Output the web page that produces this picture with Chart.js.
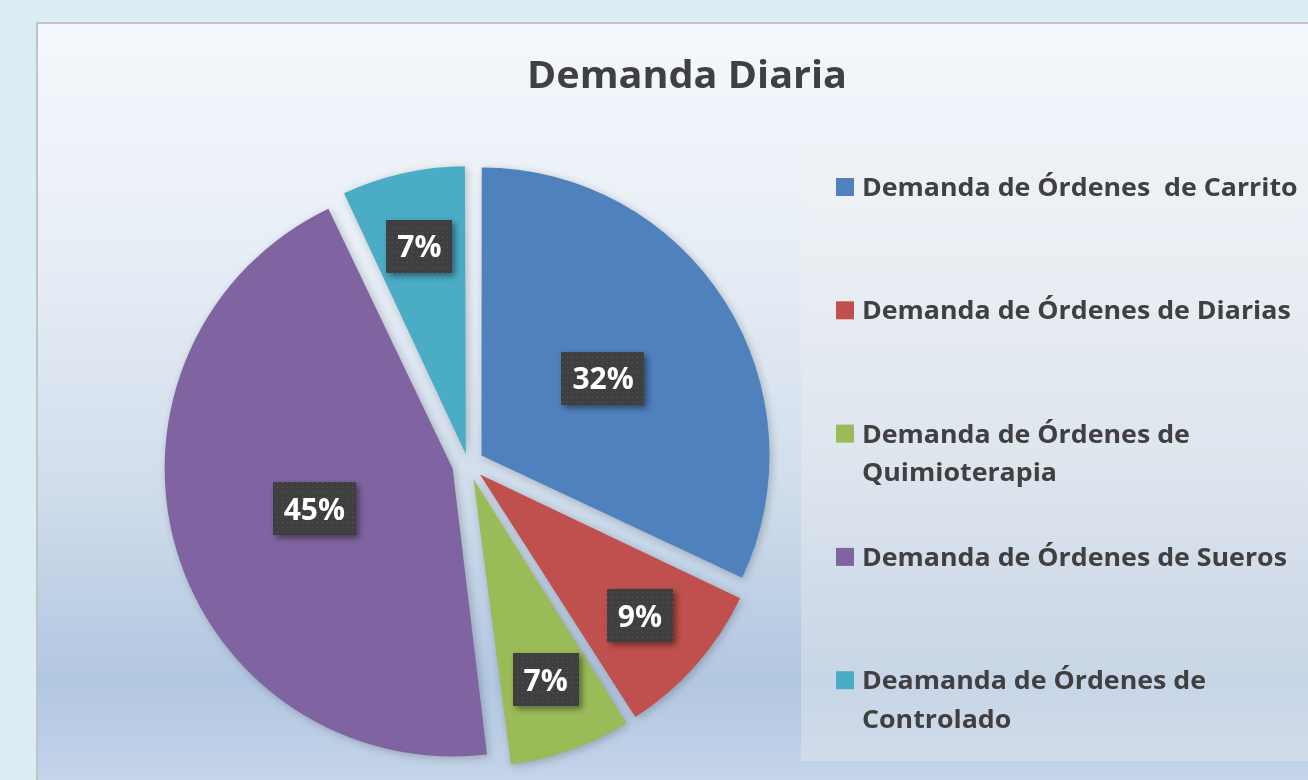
<!DOCTYPE html>
<html>
<head>
<meta charset="utf-8">
<title>Demanda Diaria</title>
<script src="https://cdn.jsdelivr.net/npm/chart.js@4.4.1/dist/chart.umd.min.js"></script>
<style>
  html, body { margin: 0; padding: 0; background: #daedf3; overflow: hidden; }
  #wrap { position: relative; width: 1308px; height: 780px; }
</style>
</head>
<body>
<div id="wrap"><canvas id="pieChart"></canvas></div>
<script>
// data
const chartTitle = "Demanda Diaria";
const categories = [
  "Demanda de Órdenes  de Carrito",
  "Demanda de Órdenes de Diarias",
  ["Demanda de Órdenes de", "Quimioterapia"],
  "Demanda de Órdenes de Sueros",
  ["Deamanda de Órdenes de", "Controlado"],
];
const demand = [32, 9, 7, 45, 7];
const sliceColors = ["#4f81bd", "#c0504d", "#9bbb59", "#8064a2", "#4bacc6"];
const explode = [16, 16, 16, 16, 10]; // px each slice is pulled out

const FONT = "'Open Sans', sans-serif";
const TEXT_COLOR = "#404040";
const TEXT_STRETCH = 1.07; // the original font is a bit wider than Open Sans
const PIE_RADIUS = 288;

// dotted dark fill used behind the percentage labels
function makeDotPattern(ctx) {
  const c = document.createElement("canvas");
  c.width = 5; c.height = 5;
  const p = c.getContext("2d");
  p.fillStyle = "#3f3f3f";
  p.fillRect(0, 0, 5, 5);
  p.fillStyle = "#575757";
  p.fillRect(2, 2, 1, 1);
  return ctx.createPattern(c, "repeat");
}

function wideText(ctx, text, x, y) {
  ctx.save();
  ctx.translate(x, y);
  ctx.scale(TEXT_STRETCH, 1);
  ctx.fillText(text, 0, 0);
  ctx.restore();
}

const backgroundPlugin = {
  id: "panelBackground",
  afterDatasetUpdate(chart) {
    // chart.js grows small exploded slices a bit; keep every slice the same size
    chart.getDatasetMeta(0).data.forEach((arc, i) => {
      const fix = 1 - Math.sin(Math.min(Math.PI, arc.circumference));
      arc.outerRadius = PIE_RADIUS - explode[i] * fix;
    });
  },
  beforeDraw(chart) {
    const ctx = chart.ctx;
    const w = chart.width, h = chart.height;
    ctx.save();
    ctx.fillStyle = "#daedf3";
    ctx.fillRect(0, 0, w, h);

    const g = ctx.createLinearGradient(0, 22, 0, h);
    g.addColorStop(0, "#f5f8fc");
    g.addColorStop(0.3, "#e8eef6");
    g.addColorStop(0.6, "#d2deec");
    g.addColorStop(0.87, "#b2c7e1");
    g.addColorStop(1, "#c4d4e9");
    ctx.fillStyle = g;
    ctx.fillRect(37, 23, w, h);
    ctx.strokeStyle = "#c3c3c3";
    ctx.lineWidth = 2;
    ctx.strokeRect(37, 23, w + 10, h + 10);

    // legend panel
    ctx.fillStyle = "rgba(240,240,240,0.35)";
    ctx.fillRect(801, 145, w - 801, 616);

    // title
    ctx.fillStyle = TEXT_COLOR;
    ctx.font = "bold 37px " + FONT;
    ctx.textAlign = "center";
    ctx.textBaseline = "alphabetic";
    wideText(ctx, chartTitle, 687, 88);
    ctx.restore();
  },
  beforeDatasetsDraw(chart) {
    const ctx = chart.ctx;
    ctx.save();
    ctx.shadowColor = "rgba(0,0,0,0.22)";
    ctx.shadowBlur = 8;
    ctx.shadowOffsetX = 2;
    ctx.shadowOffsetY = 2;
  },
  afterDatasetsDraw(chart) {
    chart.ctx.restore();
  },
  afterDraw(chart) {
    const ctx = chart.ctx;
    const meta = chart.getDatasetMeta(0);
    const values = chart.data.datasets[0].data;
    const total = values.reduce((a, b) => a + b, 0);
    const pattern = makeDotPattern(ctx);

    // percentage labels
    ctx.save();
    ctx.font = "bold 30px " + FONT;
    meta.data.forEach((arc, i) => {
      const share = values[i] / total;
      const p = arc.getProps(["x", "y", "startAngle", "endAngle"], true);
      const mid = (p.startAngle + p.endAngle) / 2;
      const dist = PIE_RADIUS * (share < 0.1 ? 0.74 : 0.5) + explode[i];
      const cx = p.x + Math.cos(mid) * dist;
      const cy = p.y + Math.sin(mid) * dist;
      const text = Math.round(share * 100) + "%";
      const tw = ctx.measureText(text).width;
      const bw = tw + 22, bh = 53;
      ctx.save();
      ctx.shadowColor = "rgba(0,0,0,0.45)";
      ctx.shadowBlur = 6;
      ctx.shadowOffsetX = 3;
      ctx.shadowOffsetY = 3;
      ctx.fillStyle = pattern;
      ctx.fillRect(Math.round(cx - bw / 2), Math.round(cy - bh / 2), Math.round(bw), bh);
      ctx.restore();
      ctx.fillStyle = "#ffffff";
      ctx.textAlign = "center";
      ctx.textBaseline = "alphabetic";
      ctx.fillText(text, cx, cy + 11);
    });
    ctx.restore();

    // legend
    ctx.save();
    ctx.font = "bold 25px " + FONT;
    ctx.textAlign = "left";
    ctx.textBaseline = "alphabetic";
    chart.data.labels.forEach((label, i) => {
      const rowY = 187 + i * 123.3;
      ctx.fillStyle = sliceColors[i];
      ctx.fillRect(836, rowY - 9, 18, 18);
      ctx.fillStyle = TEXT_COLOR;
      const lines = Array.isArray(label) ? label : [label];
      lines.forEach((line, j) => wideText(ctx, line, 862, rowY + 9 + j * 38.5));
    });
    ctx.restore();
  }
};

document.fonts.load("bold 30px 'Open Sans'").then(() => {
  new Chart(document.getElementById("pieChart"), {
    type: "pie",
    data: {
      labels: categories,
      datasets: [{
        data: demand,
        backgroundColor: sliceColors,
        borderWidth: 0,
        // chart.js moves a slice by offset / 4
        offset: explode.map(e => e * 4),
        hoverOffset: 0,
      }],
    },
    options: {
      responsive: true,
      maintainAspectRatio: false,
      animation: false,
      radius: PIE_RADIUS,
      layout: { padding: { left: 168, top: 164, right: 540, bottom: 16 } },
      plugins: {
        legend: { display: false },
        title: { display: false },
        tooltip: { enabled: false },
      },
    },
    plugins: [backgroundPlugin],
  });
});
</script>
</body>
</html>
